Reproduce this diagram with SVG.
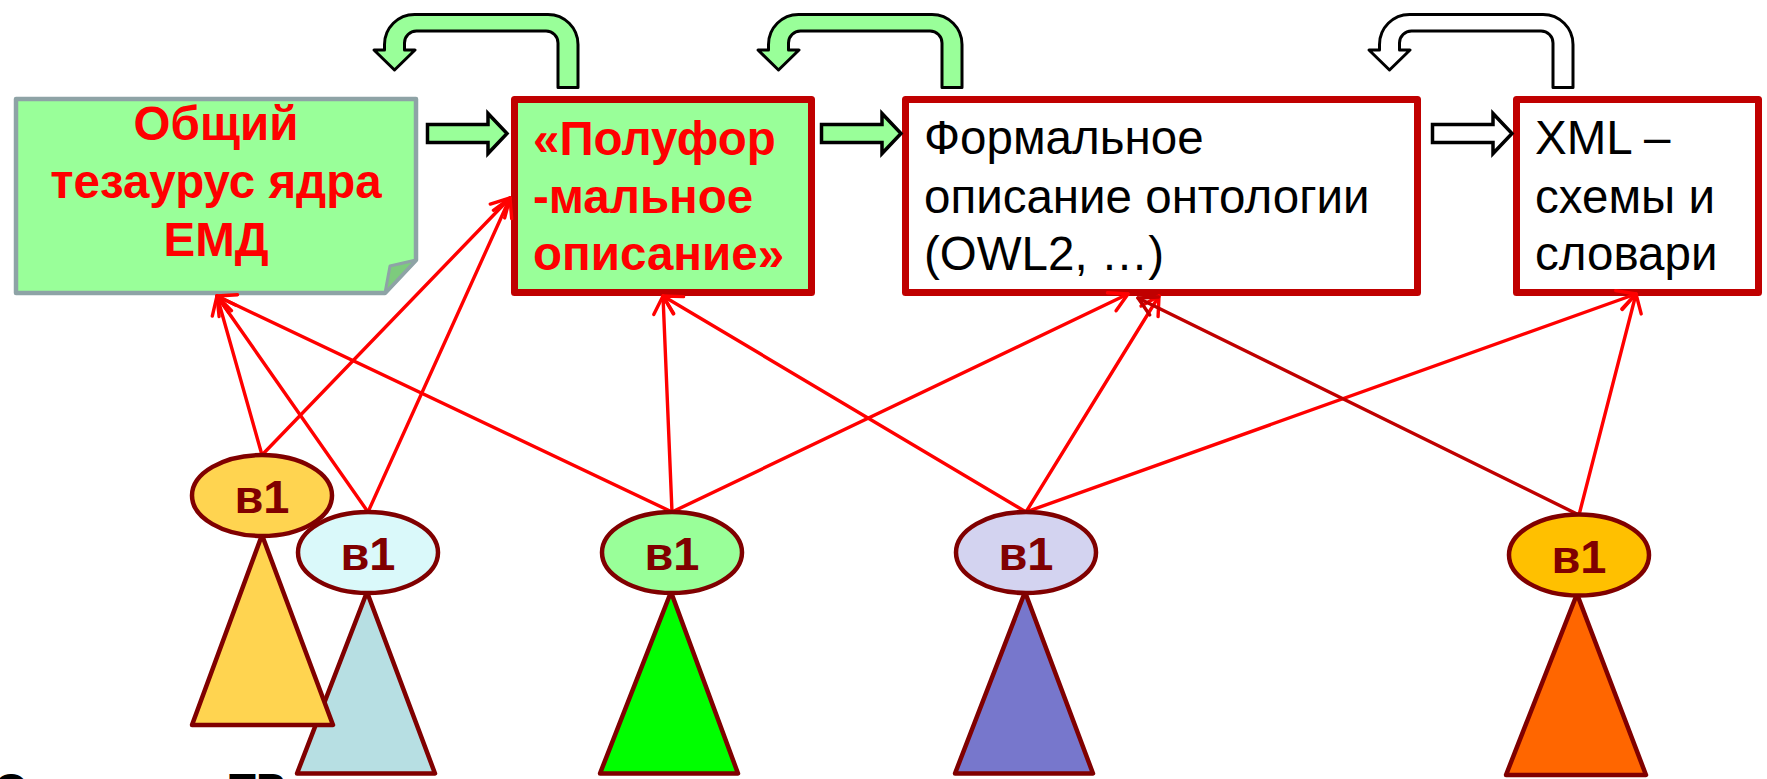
<svg xmlns="http://www.w3.org/2000/svg" width="1767" height="779" viewBox="0 0 1767 779">
<style>
.t{font-family:"Liberation Sans",Arial,sans-serif;font-size:47.5px}
.rb{font-weight:bold;fill:#FF0000}
.bk{fill:#000000}
.box{stroke:#C00000;stroke-width:7;stroke-linejoin:round}
.ua{stroke:#000;stroke-width:3;stroke-linejoin:round}
.ba{stroke:#000;stroke-width:3.5;stroke-linejoin:miter}
.cn{fill:none;stroke:#FF0000;stroke-width:3.4;stroke-linecap:round}
.cd{fill:none;stroke:#C00000;stroke-width:3.4;stroke-linecap:round}
.nd{stroke:#800000;stroke-width:4.5;stroke-linejoin:round}
.lb{font-family:"Liberation Sans",Arial,sans-serif;font-size:47px;font-weight:bold;fill:#800000;text-anchor:middle}
</style>
<defs>
<marker id="ah" markerUnits="userSpaceOnUse" viewBox="-22 -13 26 26" refX="0" refY="0" markerWidth="26" markerHeight="26" orient="auto" overflow="visible">
<path d="M-18,-10 L0,0 L-18,10" fill="none" stroke="#FF0000" stroke-width="3.4" stroke-linecap="round" stroke-linejoin="round"/>
</marker>
<marker id="ahd" markerUnits="userSpaceOnUse" viewBox="-22 -13 26 26" refX="0" refY="0" markerWidth="26" markerHeight="26" orient="auto" overflow="visible">
<path d="M-18,-10 L0,0 L-18,10" fill="none" stroke="#C00000" stroke-width="3.4" stroke-linecap="round" stroke-linejoin="round"/>
</marker>
<path id="uarrow" d="M962,87.5 V44.5 A30,30 0 0 0 932,14.5 H798.5 A30,30 0 0 0 768.5,44.5 V50 H758 L778.5,70 L799,50 H788.5 V43 A12,12 0 0 1 800.5,31 H930 A12,12 0 0 1 942,43 V87.5 Z"/>
<path id="barrow" d="M427.5,124.5 H488 V113.5 L507,133.5 L488,153.5 V142.5 H427.5 Z"/>
</defs>

<g id="box-thesaurus">
<path d="M16,99 H416 V260 L385,293 H16 Z" fill="#99FF99" stroke="#8EA3A6" stroke-width="4.5" stroke-linejoin="round"/>
<path d="M385,293 L390,266 L416,260 Z" fill="#7DCB7D" stroke="#8EA3A6" stroke-width="3" stroke-linejoin="round"/>
<text class="t rb" text-anchor="middle"><tspan x="216" y="140">Общий</tspan><tspan x="216" y="198">тезаурус ядра</tspan><tspan x="216" y="256">ЕМД</tspan></text>
</g>

<g id="box-semiformal">
<rect class="box" x="514.5" y="99.5" width="297" height="193" fill="#99FF99"/>
<text class="t rb"><tspan x="533" y="155">«Полуфор</tspan><tspan x="533" y="213">-мальное</tspan><tspan x="533" y="270">описание»</tspan></text>
</g>

<g id="box-formal">
<rect class="box" x="905.5" y="99.5" width="512" height="193" fill="#FFFFFF"/>
<text class="t bk"><tspan x="924" y="154">Формальное</tspan><tspan x="924" y="213">описание онтологии</tspan><tspan x="924" y="270">(OWL2, …)</tspan></text>
</g>

<g id="box-xml">
<rect class="box" x="1516.5" y="99.5" width="242" height="193" fill="#FFFFFF"/>
<text class="t bk"><tspan x="1535" y="154">XML –</tspan><tspan x="1535" y="213">схемы и</tspan><tspan x="1535" y="270">словари</tspan></text>
</g>

<g id="connectors">
<use href="#uarrow" class="ua" fill="#99FF99" transform="translate(-384,0)"/>
<use href="#uarrow" class="ua" fill="#99FF99"/>
<use href="#uarrow" class="ua" fill="#FFFFFF" transform="translate(611,0)"/>
<use href="#barrow" class="ba" fill="#99FF99"/>
<use href="#barrow" class="ba" fill="#99FF99" transform="translate(394,0)"/>
<use href="#barrow" class="ba" fill="#FFFFFF" transform="translate(1005,0)"/>

<line class="cn" x1="262" y1="455" x2="217" y2="296" marker-end="url(#ah)"/>
<line class="cn" x1="262" y1="455" x2="510" y2="198" marker-end="url(#ah)"/>
<line class="cn" x1="368" y1="512" x2="217" y2="296" marker-end="url(#ah)"/>
<line class="cn" x1="368" y1="512" x2="510" y2="198" marker-end="url(#ah)"/>
<line class="cn" x1="672" y1="512" x2="217" y2="296" marker-end="url(#ah)"/>
<line class="cn" x1="672" y1="512" x2="663" y2="296" marker-end="url(#ah)"/>
<line class="cn" x1="672" y1="512" x2="1128" y2="294" marker-end="url(#ah)"/>
<line class="cn" x1="1026" y1="512" x2="663" y2="296" marker-end="url(#ah)"/>
<line class="cn" x1="1026" y1="512" x2="1159" y2="296" marker-end="url(#ah)"/>
<line class="cn" x1="1026" y1="512" x2="1636" y2="294" marker-end="url(#ah)"/>
<line class="cd" x1="1579" y1="515" x2="1138" y2="298" marker-end="url(#ahd)"/>
<line class="cn" x1="1579" y1="515" x2="1636" y2="294" marker-end="url(#ah)"/>
</g>

<g id="tree-2">
<polygon class="nd" points="367,592 435,773.5 297,773.5" fill="#B7DFE3"/>
</g>
<g id="tree-1">
<polygon class="nd" points="262,535 333,725 192,725" fill="#FFD450"/>
<ellipse class="nd" cx="262" cy="495.5" rx="70" ry="40.5" fill="#FFD450"/>
<text class="lb" x="262" y="513">в1</text>
</g>
<g id="tree-2-head">
<ellipse class="nd" cx="368" cy="552.5" rx="70" ry="40.5" fill="#DAF9FA"/>
<text class="lb" x="368" y="570">в1</text>
</g>
<g id="tree-3">
<polygon class="nd" points="671,592 738,773.5 600,773.5" fill="#00FF00"/>
<ellipse class="nd" cx="672" cy="552.5" rx="70" ry="40.5" fill="#99FF99"/>
<text class="lb" x="672" y="570">в1</text>
</g>
<g id="tree-4">
<polygon class="nd" points="1025,592 1093,773.5 955,773.5" fill="#7777CC"/>
<ellipse class="nd" cx="1026" cy="552.5" rx="70" ry="40.5" fill="#D3D3F0"/>
<text class="lb" x="1026" y="570">в1</text>
</g>
<g id="tree-5">
<polygon class="nd" points="1577,594 1646,775 1506,775" fill="#FF6600"/>
<ellipse class="nd" cx="1579" cy="555" rx="70" ry="40.5" fill="#FFC000"/>
<text class="lb" x="1579" y="573">в1</text>
</g>

<g id="cut-text">
<text x="-6" y="805" style="font-family:'Liberation Sans',Arial,sans-serif;font-size:44px;font-weight:bold;fill:#000">О</text>
<text x="229" y="805" style="font-family:'Liberation Sans',Arial,sans-serif;font-size:44px;font-weight:bold;fill:#000">ТР</text>
</g>
</svg>
